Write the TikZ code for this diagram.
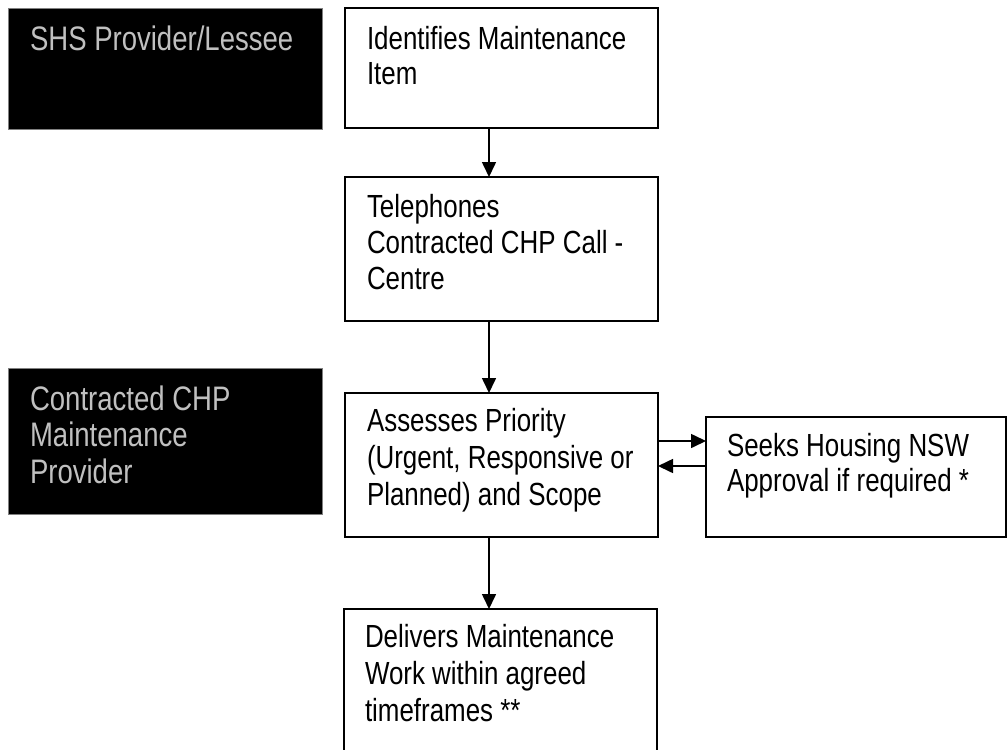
\documentclass[tikz,border=0pt]{standalone}
\usepackage{fontspec}
\setmainfont{Liberation Sans}[FakeStretch=0.81]
\usetikzlibrary{arrows.meta}
\definecolor{labelgray}{RGB}{192,192,192}
\definecolor{edgegray}{RGB}{128,128,128}
\begin{document}
\begin{tikzpicture}[x=1pt,y=-1pt,
  every node/.style={inner sep=0pt, outer sep=0pt},
  band/.style={draw=edgegray, line width=0.8pt, fill=black, rectangle, anchor=north west},
  stepbox/.style={draw=black, line width=1.6pt, fill=white, rectangle, anchor=north west},
  lbl/.style={anchor=north west, align=left, font=\fontsize{32}{36}\selectfont},
  bandlbl/.style={lbl, text=labelgray, font=\fontsize{34}{36.5}\selectfont},
  flow/.style={line width=1.6pt, -{Triangle[length=15pt,width=14pt]}}]
\useasboundingbox (0,0) rectangle (1008,749);
\fill[white] (0,0) rectangle (1008,749);

% side bands
\node[band, minimum width=314pt, minimum height=121pt] (band1) at (8,8) {};
\node[band, minimum width=314pt, minimum height=146pt] (band2) at (8,368) {};
\node[bandlbl] (band1t) at (30,25.5) {SHS Provider/Lessee};
\node[bandlbl] (band2t) at (30,385.5) {Contracted CHP\\Maintenance\\Provider};

% process boxes
\node[stepbox, minimum width=313pt, minimum height=120pt] (b1) at (345,8) {};
\node[stepbox, minimum width=313pt, minimum height=144pt] (b2) at (345,177) {};
\node[stepbox, minimum width=313pt, minimum height=144pt] (b3) at (345,393) {};
\node[stepbox, minimum width=300pt, minimum height=120pt] (b4) at (706,417) {};
\node[stepbox, minimum width=313pt, minimum height=175pt] (b5) at (344,609) {};

\node[lbl, font=\fontsize{32}{35}\selectfont] (b1t) at (367,26.5) {Identifies Maintenance\\Item};
\node[lbl] (b2t) at (367,194.5) {Telephones\\Contracted CHP Call -\\Centre};
\node[lbl, font=\fontsize{32}{37}\selectfont] (b3t) at (367,408.5) {Assesses Priority\\(Urgent, Responsive or\\Planned) and Scope};
\node[lbl, font=\fontsize{32}{35}\selectfont] (b4t) at (727,433.5) {Seeks Housing NSW\\Approval if required *};
\node[lbl, font=\fontsize{32}{37}\selectfont] (b5t) at (365,624.5) {Delivers Maintenance\\Work within agreed\\timeframes **};

% connectors
\coordinate (ax) at (489,0);
\coordinate (r1) at (0,441);
\coordinate (r2) at (0,466);
\draw[flow] (b1.south -| ax) -- (b2.north -| ax);
\draw[flow] (b2.south -| ax) -- (b3.north -| ax);
\draw[flow] (b3.south -| ax) -- (b5.north -| ax);
\draw[flow] (b3.east |- r1) -- (b4.west |- r1);
\draw[flow] (b4.west |- r2) -- (b3.east |- r2);
\end{tikzpicture}
\end{document}
